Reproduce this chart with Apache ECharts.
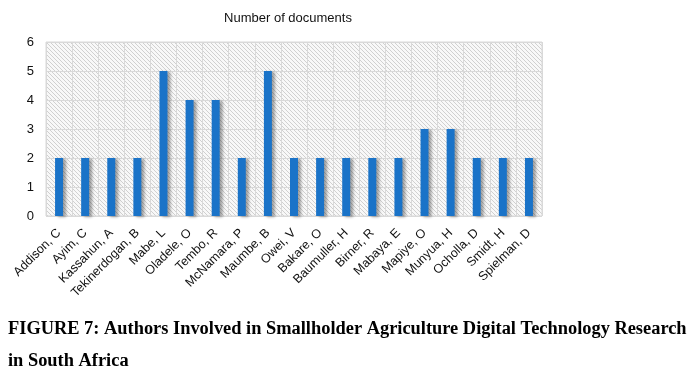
<!DOCTYPE html>
<html>
<head>
<meta charset="utf-8">
<script src="https://cdn.jsdelivr.net/npm/echarts@6/dist/echarts.min.js"></script>
<style>
  html, body { margin: 0; padding: 0; background: #fff; }
  #chart { width: 694px; height: 376px; }
</style>
</head>
<body>
<div id="chart"></div>
<script>
var authors = ['Addison, C', 'Ayim, C', 'Kassahun, A', 'Tekinerdogan, B', 'Mabe, L', 'Oladele, O',
    'Tembo, R', 'McNamara, P', 'Maumbe, B', 'Owei, V', 'Bakare, O', 'Baumuller, H', 'Birner, R',
    'Mabaya, E', 'Mapiye, O', 'Munyua, H', 'Ocholla, D', 'Smidt, H', 'Spielman, D'];
var docs = [2, 2, 2, 2, 5, 4, 4, 2, 5, 2, 2, 2, 2, 2, 3, 3, 2, 2, 2];
var yTicks = [0, 1, 2, 3, 4, 5, 6];

// diagonal hatch for the plot background
var hatch = document.createElement('canvas');
hatch.width = 4;
hatch.height = 4;
var hc = hatch.getContext('2d');
hc.fillStyle = '#f8f8f8';
hc.fillRect(0, 0, 4, 4);
hc.strokeStyle = '#d0d0d0';
hc.lineWidth = 1;
hc.beginPath();
hc.moveTo(0, 0); hc.lineTo(4, 4);
hc.moveTo(-1, 3); hc.lineTo(1, 5);
hc.moveTo(3, -1); hc.lineTo(5, 1);
hc.stroke();

var chart = echarts.init(document.getElementById('chart'));
chart.setOption({
    animation: false,
    title: [{
        text: 'Number of documents',
        left: 283,
        top: 7,
        textAlign: 'center',
        textStyle: { fontFamily: 'Arial, Liberation Sans', fontSize: 13, fontWeight: 'normal', color: '#111' }
    }, {
        text: 'FIGURE 7: Authors Involved in Smallholder Agriculture Digital Technology Research\nin South Africa',
        left: 3,
        top: 308,
        textStyle: {
            fontFamily: 'Liberation Serif', fontSize: 18.4, fontWeight: 'bold', color: '#000', lineHeight: 32
        }
    }],
    grid: {
        left: 46,
        right: 152,
        top: 42,
        bottom: 160,
        show: true,
        backgroundColor: { image: hatch, repeat: 'repeat' },
        borderColor: '#d9d9d9',
        borderWidth: 1
    },
    xAxis: {
        type: 'category',
        data: authors,
        axisLine: { show: false },
        axisTick: { show: false },
        splitLine: { show: true, interval: 0, lineStyle: { color: '#d9d9d9', width: 1 } },
        axisLabel: {
            interval: 0,
            rotate: 45,
            margin: 15,
            fontFamily: 'Arial, Liberation Sans',
            fontSize: 12.5,
            color: '#111'
        }
    },
    yAxis: {
        type: 'value',
        min: yTicks[0],
        max: yTicks[yTicks.length - 1],
        interval: 1,
        axisLine: { show: false },
        axisTick: { show: false },
        splitLine: { lineStyle: { color: '#d9d9d9', width: 1 } },
        axisLabel: { margin: 12, fontFamily: 'Arial, Liberation Sans', fontSize: 13, color: '#111' }
    },
    series: [{
        type: 'bar',
        data: docs,
        barWidth: 8,
        itemStyle: {
            color: '#1a73c8',
            shadowColor: 'rgba(0,0,0,0.35)',
            shadowBlur: 3,
            shadowOffsetX: 3,
            shadowOffsetY: 1
        }
    }]
});
</script>
</body>
</html>
